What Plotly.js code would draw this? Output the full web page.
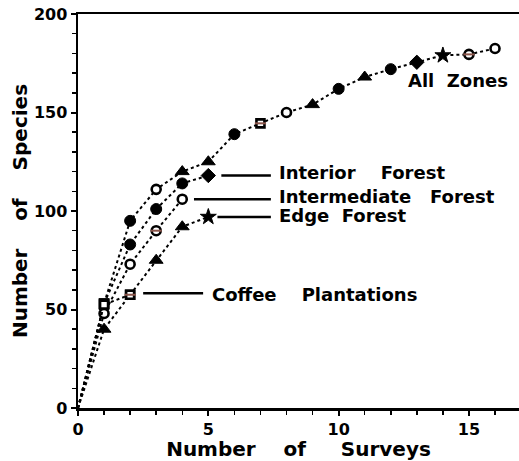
<!DOCTYPE html>
<html>
<head>
<meta charset="utf-8">
<script src="https://cdn.plot.ly/plotly-3.0.1.min.js"></script>
<style>html,body{margin:0;padding:0;background:#fff;}</style>
</head>
<body>
<div id="chart" style="width:519px;height:461px;"></div>
<script>
// ---- data ----
const surveys = [0, 1, 2, 3, 4, 5, 6, 7, 8, 9, 10, 11, 12, 13, 14, 15, 16];
const allZones = [0, 53, 95, 111, 120, 125, 139, 144.5, 150, 154, 162, 168, 172, 175.5, 179, 179.5, 182.5];
const allZonesSymbols = ["circle", "square-open", "circle", "circle-open", "triangle-up", "triangle-up", "circle",
  "square-open", "circle-open", "triangle-up", "circle", "triangle-up", "circle", "diamond", "star", "circle-open", "circle-open"];

const interiorForest = [0, 53, 83, 101, 114, 118];
const interiorSymbols = ["circle", "square-open", "circle", "circle", "circle", "diamond"];

const intermediateForest = [0, 48, 73, 90, 106];
const intermediateSymbols = ["circle", "circle-open", "circle-open", "circle-open", "circle-open"];

const edgeForest = [0, 40, 57.5, 75, 92, 97];
const edgeSymbols = ["circle", "triangle-up", "square-open", "triangle-up", "triangle-up", "star"];

const coffeePlantations = [0, 52.5, 57.5];
const coffeeSymbols = ["circle", "square-open", "square-open"];

const labelTexts = {
  all: "All\u00a0\u00a0Zones",
  interior: "Interior\u00a0\u00a0\u00a0\u00a0Forest",
  intermediate: "Intermediate\u00a0\u00a0\u00a0Forest",
  edge: "Edge\u00a0\u00a0Forest",
  coffee: "Coffee\u00a0\u00a0\u00a0\u00a0Plantations"
};
const xTitle = "Number\u00a0\u00a0\u00a0\u00a0of\u00a0\u00a0\u00a0\u00a0\u00a0Surveys";
const yTitle = "Number\u00a0\u00a0\u00a0\u00a0of\u00a0\u00a0\u00a0\u00a0Species";

// ---- helpers ----
const FONT = "DejaVu Sans";
function sizesFor(symbols) {
  return symbols.map((s, i) => {
    if (i === 0) return 0;
    if (s === "circle") return 11;
    if (s === "circle-open") return 9;
    if (s === "square-open") return 8;
    if (s === "triangle-up") return 12;
    if (s === "diamond") return 11;
    if (s === "star") return 12;
    return 10;
  });
}
function series(yvals, symbols, name) {
  const isOpen = symbols.map(s => s.endsWith("-open"));
  return {
    type: "scatter", mode: "lines+markers", name: name,
    x: surveys.slice(0, yvals.length), y: yvals,
    line: {color: "#000", width: 2, dash: "dot"},
    marker: {
      symbol: symbols.map(s => s.replace("-open", "")),
      size: sizesFor(symbols),
      color: isOpen.map(o => o ? "#fff" : "#000"),
      opacity: 1,
      line: {color: "#000", width: isOpen.map(o => o ? 2.6 : 1)}
    },
    cliponaxis: false, hoverinfo: "x+y"
  };
}

// overlay bars for the "theta" circles and the "B" squares
const barPts = [
  [surveys[3], intermediateForest[3]],
  [surveys[15], allZones[15]],
  [surveys[2], coffeePlantations[2]],
  [surveys[7], allZones[7]]
];

const traces = [
  series(allZones, allZonesSymbols, "All Zones"),
  series(interiorForest, interiorSymbols, "Interior Forest"),
  series(intermediateForest, intermediateSymbols, "Intermediate Forest"),
  series(edgeForest, edgeSymbols, "Edge Forest"),
  series(coffeePlantations, coffeeSymbols, "Coffee Plantations"),
  {
    type: "scatter", mode: "markers", x: barPts.map(p => p[0]), y: barPts.map(p => p[1]),
    marker: {symbol: "line-ew-open", size: 8, opacity: 1, line: {color: "#000", width: 2}},
    hoverinfo: "skip", cliponaxis: false
  }
];

// leader lines + labels anchored on each zone's last point
const labelX = 7.65, lineEnd = 7.4;
function leader(y, x0, x1) {
  return {type: "line", xref: "x", yref: "y", x0: x0, x1: x1, y0: y, y1: y,
          line: {color: "#000", width: 2.5}};
}
const iLast = interiorForest.length - 1;
const mLast = intermediateForest.length - 1;
const eLast = edgeForest.length - 1;
const cLast = coffeePlantations.length - 1;

const shapes = [
  leader(interiorForest[iLast], surveys[iLast] + 0.5, lineEnd),
  leader(intermediateForest[mLast], surveys[mLast] + 0.45, lineEnd),
  leader(edgeForest[eLast], surveys[eLast] + 0.35, lineEnd),
  leader(coffeePlantations[cLast] + 0.8, surveys[cLast] + 0.5, 4.8)
];

const annFont = {family: FONT, size: 18, color: "#000", weight: "bold"};
function label(text, x, y, yshift) {
  return {text: text, x: x, y: y, xref: "x", yref: "y", xanchor: "left", yanchor: "middle",
          showarrow: false, font: annFont, yshift: yshift || 0};
}
const annotations = [
  label(labelTexts.interior, labelX, interiorForest[iLast], 3),
  label(labelTexts.intermediate, labelX, intermediateForest[mLast], 3),
  label(labelTexts.edge, labelX, edgeForest[eLast], 1),
  label(labelTexts.coffee, 5.05, coffeePlantations[cLast], 0),
  label(labelTexts.all, 12.6, 166.5, 0)
];

const layout = {
  width: 519, height: 461,
  margin: {l: 78, r: 0, t: 14, b: 53},
  paper_bgcolor: "#fff", plot_bgcolor: "#fff",
  showlegend: false,
  font: {family: FONT, color: "#000", weight: "bold"},
  xaxis: {
    range: [0, 16.92], tickmode: "linear", tick0: 0, dtick: 5,
    ticks: "outside", ticklen: 5, tickwidth: 2, tickcolor: "#000",
    minor: {dtick: 1, ticks: "outside", ticklen: 4, tickwidth: 1.5, tickcolor: "#000"},
    showline: true, linewidth: 2.5, linecolor: "#000", mirror: true,
    showgrid: false, zeroline: false, automargin: false,
    tickfont: {family: FONT, size: 16, color: "#000", weight: "bold"},
    ticklabelstandoff: 0,
    title: {text: xTitle, font: {family: FONT, size: 20, color: "#000", weight: "bold"}, standoff: 9}
  },
  yaxis: {
    range: [0, 200], tickmode: "linear", tick0: 0, dtick: 50,
    ticks: "outside", ticklen: 5, tickwidth: 2, tickcolor: "#000",
    minor: {dtick: 10, ticks: "outside", ticklen: 4, tickwidth: 1.5, tickcolor: "#000"},
    showline: true, linewidth: 2.5, linecolor: "#000",
    showgrid: false, zeroline: false, automargin: false,
    tickfont: {family: FONT, size: 16, color: "#000", weight: "bold"},
    title: {text: yTitle, font: {family: FONT, size: 20, color: "#000", weight: "bold"}, standoff: 1}
  },
  shapes: shapes,
  annotations: annotations
};

Plotly.newPlot("chart", traces, layout, {displayModeBar: false, staticPlot: true});
</script>
</body>
</html>
